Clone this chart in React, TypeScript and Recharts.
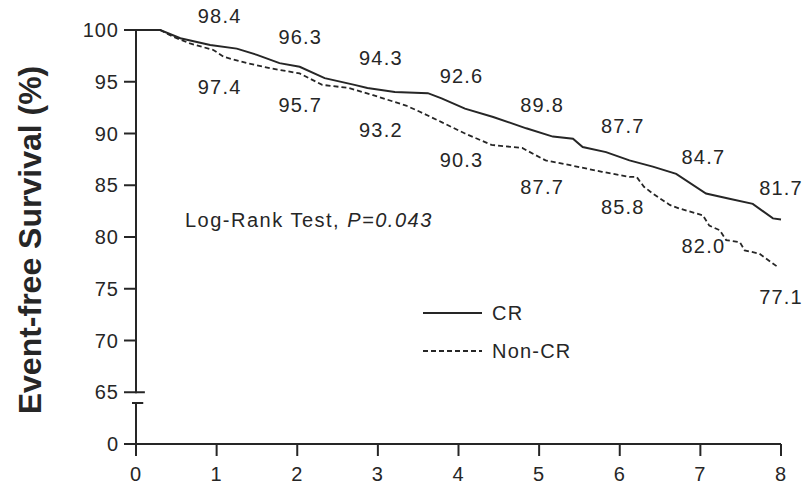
import React from 'react';
import { ComposedChart, Line, Scatter, XAxis, YAxis, ReferenceLine, Legend, Label } from 'recharts';

// Kaplan-Meier curves (years, % event-free)
const crYears = [0, 0.3, 0.55, 0.92, 1.25, 1.5, 1.78, 2.03, 2.34, 2.71, 2.87, 3.21, 3.62, 3.79, 4.08, 4.43, 4.84, 5.17, 5.42, 5.54, 5.83, 6.12, 6.41, 6.7, 7.07, 7.36, 7.65, 7.9, 8];
const crSurvival = [100, 100, 99.2, 98.55, 98.2, 97.6, 96.8, 96.45, 95.35, 94.7, 94.4, 94.0, 93.9, 93.4, 92.4, 91.6, 90.5, 89.7, 89.5, 88.7, 88.2, 87.4, 86.8, 86.1, 84.2, 83.7, 83.2, 81.8, 81.7];

const nonCrYears = [0, 0.3, 0.46, 0.67, 0.96, 1.09, 1.38, 1.67, 2.03, 2.31, 2.64, 2.94, 3.35, 3.52, 3.79, 4.08, 4.41, 4.79, 5.08, 5.41, 5.78, 6.12, 6.21, 6.3, 6.41, 6.62, 6.74, 7.03, 7.11, 7.24, 7.32, 7.49, 7.55, 7.73, 7.96];
const nonCrSurvival = [100, 100, 99.35, 98.7, 98.07, 97.4, 96.8, 96.3, 95.8, 94.7, 94.4, 93.7, 92.7, 92.1, 91.1, 90.0, 88.9, 88.6, 87.4, 86.9, 86.3, 85.8, 85.8, 84.85, 84.2, 83.1, 82.75, 82.1, 81.1, 80.65, 79.7, 79.5, 78.7, 78.4, 77.1];

// yearly estimates printed on the plot
const labelYears = [1, 2, 3, 4, 5, 6, 7, 8];
const crLabels = [98.4, 96.3, 94.3, 92.6, 89.8, 87.7, 84.7, 81.7];
const nonCrLabels = [97.4, 95.7, 93.2, 90.3, 87.7, 85.8, 82.0, 77.1];

const xTicks = [0, 1, 2, 3, 4, 5, 6, 7, 8];
// 60 stands in for the "0" below the axis break
const yTicks = [60, 65, 70, 75, 80, 85, 90, 95, 100];

const WIDTH = 804;
const HEIGHT = 485;
const FONT = '"Liberation Sans", Arial, Helvetica, sans-serif';
const INK = '#262626';

const toPoints = (xs: number[], ys: number[]) => xs.map((t, i) => ({ t, v: ys[i] }));

const crData = toPoints(crYears, crSurvival);
const nonCrData = toPoints(nonCrYears, nonCrSurvival);
const crLabelData = toPoints(labelYears, crLabels);
const nonCrLabelData = toPoints(labelYears, nonCrLabels);

const legendItems = [
  { name: 'CR', dash: undefined as string | undefined },
  { name: 'Non-CR', dash: '5 3' },
];

// value text sits above (CR) or below (Non-CR) its point; keep it inside the frame
const makeValueLabel = (dy: number) => (props: any) => {
  const { cx, cy, payload } = props;
  const x = Math.min(cx + 3, WIDTH - 23);
  return (
    <text
      x={x}
      y={cy + dy}
      textAnchor="middle"
      dominantBaseline="central"
      fontFamily={FONT}
      fontSize={20}
      letterSpacing={1.2}
      fill={INK}
    >
      {payload.v.toFixed(1)}
    </text>
  );
};

const YTitle = (props: any) => {
  const { viewBox } = props;
  const x = viewBox.x + 30;
  const y = viewBox.y + viewBox.height / 2 + 3;
  return (
    <text
      x={x}
      y={y}
      transform={`rotate(-90, ${x}, ${y})`}
      textAnchor="middle"
      dominantBaseline="central"
      fontFamily={FONT}
      fontWeight="bold"
      fontSize={32}
      fill={INK}
    >
      Event-free Survival (%)
    </text>
  );
};

const renderLegend = () => (
  <div>
    {legendItems.map((item) => (
      <div key={item.name} style={{ display: 'flex', alignItems: 'center', height: 38 }}>
        <svg width={59} height={4}>
          <line x1={0} y1={2} x2={59} y2={2} stroke={INK} strokeWidth={2} strokeDasharray={item.dash} />
        </svg>
        <span style={{ marginLeft: 10, fontSize: 20, lineHeight: '20px', letterSpacing: '1.2px', fontFamily: FONT, color: INK }}>
          {item.name}
        </span>
      </div>
    ))}
  </div>
);

const tickStyle = { fill: INK, fontSize: 20, fontFamily: FONT, letterSpacing: 1 };
const axisStroke = { stroke: INK, strokeWidth: 2 };

export default function App() {
  return (
    <div style={{ position: 'absolute', left: 0, top: 0, width: WIDTH, height: HEIGHT, background: '#fff' }}>
      <ComposedChart width={WIDTH} height={HEIGHT} margin={{ top: 30, right: 23, bottom: 0, left: 0 }}>
        <XAxis
          type="number"
          dataKey="t"
          domain={[0, 8]}
          ticks={xTicks}
          interval={0}
          height={41}
          axisLine={axisStroke}
          tickLine={axisStroke}
          tickSize={12}
          tickMargin={11}
          tick={tickStyle}
        />
        <YAxis
          type="number"
          dataKey="v"
          domain={[60, 100]}
          ticks={yTicks}
          interval={0}
          width={136}
          axisLine={false}
          tickLine={axisStroke}
          tickSize={12}
          tickMargin={5}
          tick={tickStyle}
          tickFormatter={(v: number) => (v === 60 ? '0' : String(v))}
        >
          <Label content={YTitle} />
        </YAxis>

        {/* broken y axis */}
        <ReferenceLine segment={[{ x: 0, y: 100 }, { x: 0, y: 64.9 }]} stroke={INK} strokeWidth={2} ifOverflow="visible" />
        <ReferenceLine segment={[{ x: 0, y: 63.96 }, { x: 0, y: 60 }]} stroke={INK} strokeWidth={2} ifOverflow="visible" />
        <ReferenceLine segment={[{ x: 0, y: 65 }, { x: 0.11, y: 65 }]} stroke={INK} strokeWidth={2} ifOverflow="visible" />
        <ReferenceLine segment={[{ x: -0.05, y: 63.96 }, { x: 0.09, y: 63.96 }]} stroke={INK} strokeWidth={2} ifOverflow="visible" />

        <Line data={crData} dataKey="v" name="CR" type="linear" stroke={INK} strokeWidth={2} dot={false} isAnimationActive={false} />
        <Line data={nonCrData} dataKey="v" name="Non-CR" type="linear" stroke={INK} strokeWidth={1.8} strokeDasharray="5 3" dot={false} isAnimationActive={false} />

        <Scatter data={crLabelData} dataKey="v" legendType="none" shape={makeValueLabel(-31)} isAnimationActive={false} />
        <Scatter data={nonCrLabelData} dataKey="v" legendType="none" shape={makeValueLabel(30)} isAnimationActive={false} />

        <Legend layout="vertical" align="center" verticalAlign="middle" content={renderLegend} wrapperStyle={{ left: 423, top: 294, width: 220 }} />
      </ComposedChart>
      <div style={{ position: 'absolute', left: 185, top: 210, fontFamily: FONT, fontSize: 20, lineHeight: '20px', letterSpacing: '1.5px', color: INK, whiteSpace: 'nowrap' }}>
        Log-Rank Test, <i>P=0.043</i>
      </div>
    </div>
  );
}
